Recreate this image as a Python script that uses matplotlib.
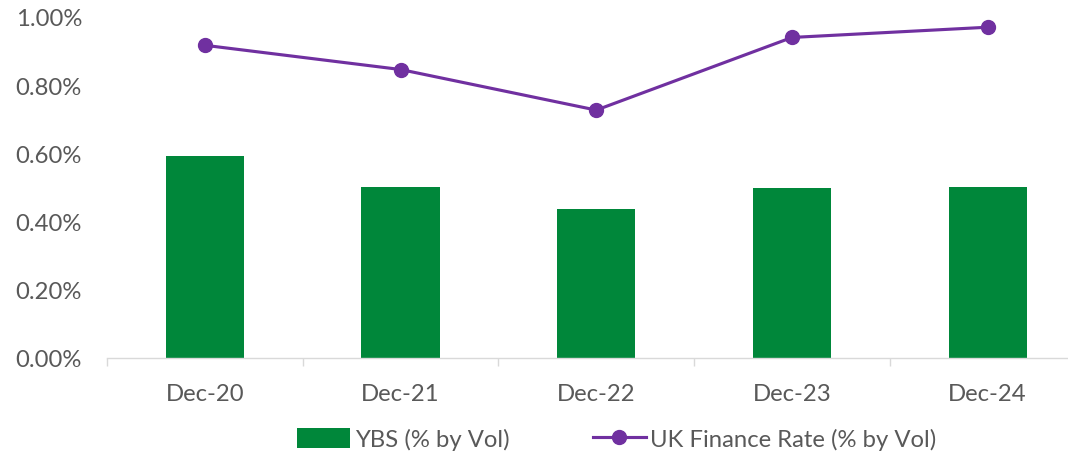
import matplotlib
matplotlib.use("Agg")
import matplotlib.pyplot as plt
from matplotlib.ticker import FuncFormatter, FixedLocator
import numpy as np

categories = ["Dec-20", "Dec-21", "Dec-22", "Dec-23", "Dec-24"]
ybs = [0.592, 0.501, 0.437, 0.498, 0.501]
uk_finance = [0.917, 0.846, 0.727, 0.940, 0.970]
yticks = [0.0, 0.2, 0.4, 0.6, 0.8, 1.0]

plt.rcParams['font.family'] = ['Lato', 'DejaVu Sans']
FS = 17.2

W, H = 1068, 456
fig = plt.figure(figsize=(W/100, H/100), dpi=100)
left = 107/W
right = 1085.5/W
bottom = (H-359)/H
top = (H-18)/H
ax = fig.add_axes([left, bottom, right-left, top-bottom])

x = np.arange(len(categories))
bars = ax.bar(x, ybs, width=0.4, color="#00873A", label="YBS (% by Vol)", zorder=2)
line, = ax.plot(x, uk_finance, color="#7030A0", lw=2.25, marker="o", markersize=10,
                label="UK Finance Rate (% by Vol)", zorder=3)

ax.set_xlim(-0.5, len(categories)-0.5)
ax.set_ylim(0, 1.0)
ax.set_yticks(yticks)
ax.yaxis.set_major_formatter(FuncFormatter(lambda v, p: f"{v:.2f}%"))
ax.set_xticks(x)
ax.set_xticklabels(categories)
ax.xaxis.set_minor_locator(FixedLocator(np.arange(-0.5, len(categories), 1.0)))

for s in ["top", "right", "left"]:
    ax.spines[s].set_visible(False)
ax.spines["bottom"].set_color("#D9D9D9")
ax.spines["bottom"].set_linewidth(1.0)

ax.tick_params(axis="y", length=0, pad=18, labelsize=FS, labelcolor="#595959")
ax.tick_params(axis="x", which="major", length=0, pad=18, labelsize=FS, labelcolor="#595959")
ax.tick_params(axis="x", which="minor", length=6, width=1, color="#D9D9D9")

leg = fig.legend([bars, line], ["YBS (% by Vol)", "UK Finance Rate (% by Vol)"],
                 loc="center", bbox_to_anchor=(617/W, 1-440/H), ncol=2, frameon=False,
                 fontsize=FS, handlelength=2.2, handletextpad=0.2, columnspacing=3.5,
                 handleheight=0.9)
for t in leg.get_texts():
    t.set_color("#595959")

fig.savefig("out.png", dpi=100)
